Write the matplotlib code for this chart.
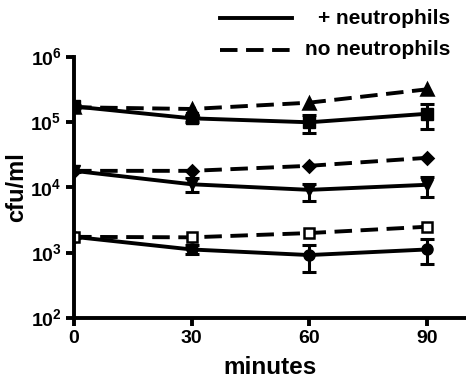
import matplotlib
matplotlib.use("Agg")
import matplotlib.pyplot as plt
from matplotlib.lines import Line2D
import numpy as np

plt.rcParams['font.family'] = ['Liberation Sans', 'DejaVu Sans']
plt.rcParams['font.weight'] = 'bold'
plt.rcParams['mathtext.fontset'] = 'custom'
plt.rcParams['mathtext.rm'] = 'Liberation Sans:bold'
plt.rcParams['mathtext.bf'] = 'Liberation Sans:bold'

minutes = [0, 30, 60, 90]

# + neutrophils (solid) series
hi_with = [1.75e5, 1.15e5, 1.0e5, 1.35e5]
hi_with_lo = [1.65e5, 1.0e5, 0.68e5, 0.78e5]
hi_with_hi = [1.85e5, 1.3e5, 1.3e5, 1.9e5]
mid_with = [1.8e4, 1.12e4, 0.92e4, 1.1e4]
mid_with_lo = [1.75e4, 0.85e4, 0.62e4, 0.72e4]
mid_with_hi = [1.85e4, 1.4e4, 1.15e4, 1.45e4]
lo_with = [1.75e3, 1.12e3, 0.92e3, 1.12e3]
lo_with_lo = [1.7e3, 0.95e3, 0.5e3, 0.68e3]
lo_with_hi = [1.8e3, 1.3e3, 1.3e3, 1.6e3]

# no neutrophils (dashed) series
hi_without = [1.7e5, 1.6e5, 2.0e5, 3.2e5]
mid_without = [1.8e4, 1.8e4, 2.15e4, 2.85e4]
lo_without = [1.75e3, 1.72e3, 2.0e3, 2.5e3]

legend_labels = ['+ neutrophils', 'no neutrophils']
ytick_vals = [1e2, 1e3, 1e4, 1e5, 1e6]
ytick_labels = ['10$^{2}$', '10$^{3}$', '10$^{4}$', '10$^{5}$', '10$^{6}$']

fig = plt.figure(figsize=(4.66, 3.78), dpi=100)
ax = fig.add_axes([0.159, 0.159, 0.841, 0.69])

lw = 2.8
dash = (0, (4.5, 2.2))

def solid(y, lo, hi, marker, ms):
    y = np.array(y); lo = np.array(lo); hi = np.array(hi)
    ax.errorbar(minutes, y, yerr=[y - lo, hi - y], color='black', lw=lw,
                marker=marker, ms=ms, capsize=5, capthick=2.2, elinewidth=2.2, zorder=3)

def dashed(y, marker, ms, mfc='black'):
    ax.plot(minutes, y, color='black', lw=lw, ls=dash, marker=marker, ms=ms,
            mfc=mfc, mec='black', mew=1.8, zorder=4)

solid(hi_with, hi_with_lo, hi_with_hi, 's', 8)
solid(mid_with, mid_with_lo, mid_with_hi, 'v', 8)
solid(lo_with, lo_with_lo, lo_with_hi, 'o', 8)
dashed(hi_without, '^', 8)
dashed(mid_without, 'D', 6)
dashed(lo_without, 's', 7.5, mfc='white')

ax.set_yscale('log')
ax.set_ylim(1e2, 1e6)
ax.set_xlim(0, 100)
ax.set_yticks(ytick_vals)
ax.set_yticklabels(ytick_labels)
ax.minorticks_off()
ax.set_xticks(minutes)
ax.set_xticklabels([str(m) for m in minutes])

for s in ['top', 'right']:
    ax.spines[s].set_visible(False)
for s in ['left', 'bottom']:
    ax.spines[s].set_linewidth(2.8)
ax.spines['left'].set_zorder(5)
ax.tick_params(width=2.8, length=6, labelsize=14, pad=3)
for lab in ax.get_xticklabels() + ax.get_yticklabels():
    lab.set_fontweight('bold')

ax.set_xlabel('minutes', fontsize=17.5, fontweight='bold', labelpad=6)
ax.set_ylabel('cfu/ml', fontsize=17, fontweight='bold')
ax.yaxis.set_label_coords(-0.118, 0.5)
ax.patch.set_visible(False)

# legend (manual, right-aligned text)
ys = [0.952, 0.868]
styles = ['-', (0, (4.5, 2.2))]
for yy, st, lab in zip(ys, styles, legend_labels):
    fig.add_artist(Line2D([0.472, 0.627], [yy, yy], color='black', lw=lw, ls=st,
                          transform=fig.transFigure))
    fig.text(0.966, yy, lab, ha='right', va='center', fontsize=15, fontweight='bold')

fig.savefig('out.png', dpi=100)
